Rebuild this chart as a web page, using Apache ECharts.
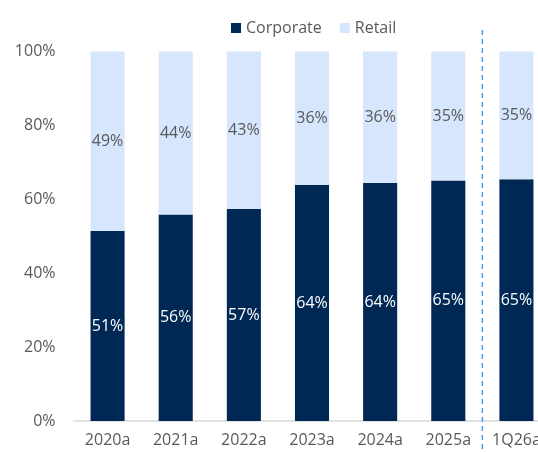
<!DOCTYPE html>
<html>
<head>
<meta charset="utf-8">
<script src="https://cdn.jsdelivr.net/npm/echarts@6/dist/echarts.min.js"></script>
<style>
html,body{margin:0;padding:0;background:#fff;}
#chart{width:538px;height:452px;}
</style>
</head>
<body>
<div id="chart"></div>
<script>
const categories = ['2020a','2021a','2022a','2023a','2024a','2025a','1Q26a'];
const corporate = [51.4, 55.9, 57.4, 63.9, 64.4, 65.1, 65.4];
const retail = [48.6, 44.1, 42.6, 36.1, 35.6, 34.9, 34.6];
const yTicks = [0, 20, 40, 60, 80, 100];

const FONT = '"Open Sans", sans-serif';
const GREY = '#595959';
const chart = echarts.init(document.getElementById('chart'), null, {renderer:'canvas'});

const option = {
  animation: false,
  backgroundColor: '#ffffff',
  textStyle: {fontFamily: FONT},
  legend: {
    top: 15,
    left: 226,
    itemWidth: 10,
    itemHeight: 10,
    itemGap: 18,
    icon: 'rect',
    textStyle: {color: GREY, fontSize: 16, fontFamily: FONT},
    data: ['Corporate','Retail']
  },
  grid: {left: 73.5, width: 477, top: 51.5, bottom: 31, containLabel: false, outerBoundsMode: 'none'},
  xAxis: {
    type: 'category',
    data: categories,
    axisLine: {show: true, lineStyle: {color: '#d9d9d9', width: 1.5}},
    axisTick: {show: false},
    axisLabel: {color: GREY, fontSize: 16, fontFamily: FONT, margin: 11}
  },
  yAxis: {
    type: 'value',
    min: yTicks[0],
    max: yTicks[yTicks.length-1],
    interval: 20,
    splitLine: {show: false},
    axisLine: {show: false},
    axisTick: {show: false},
    axisLabel: {color: GREY, fontSize: 16, fontFamily: FONT, margin: 18, formatter: v => v + '%'}
  },
  series: [
    {
      name: 'Corporate',
      type: 'bar',
      stack: 'total',
      barWidth: '50%',
      data: corporate,
      itemStyle: {color: '#002855'},
      label: {show: true, position: 'inside', color: '#ffffff', fontSize: 16, fontFamily: FONT,
        formatter: p => Math.round(p.value) + '%'}
    },
    {
      name: 'Retail',
      type: 'bar',
      stack: 'total',
      barWidth: '50%',
      data: retail,
      itemStyle: {color: '#D6E6FC'},
      label: {show: true, position: 'inside', color: GREY, fontSize: 16, fontFamily: FONT,
        formatter: p => Math.round(p.value) + '%'}
    }
  ]
};
chart.setOption(option);

const xa = chart.convertToPixel({xAxisIndex: 0}, categories[5]);
const xb = chart.convertToPixel({xAxisIndex: 0}, categories[6]);
const xm = (xa + xb) / 2;
chart.setOption({
  graphic: [{
    type: 'line',
    shape: {x1: xm, y1: 30, x2: xm, y2: 452},
    style: {stroke: '#4A9BE8', lineWidth: 1.5, lineDash: [5, 4]},
    z: 10
  }]
});
</script>
</body>
</html>
